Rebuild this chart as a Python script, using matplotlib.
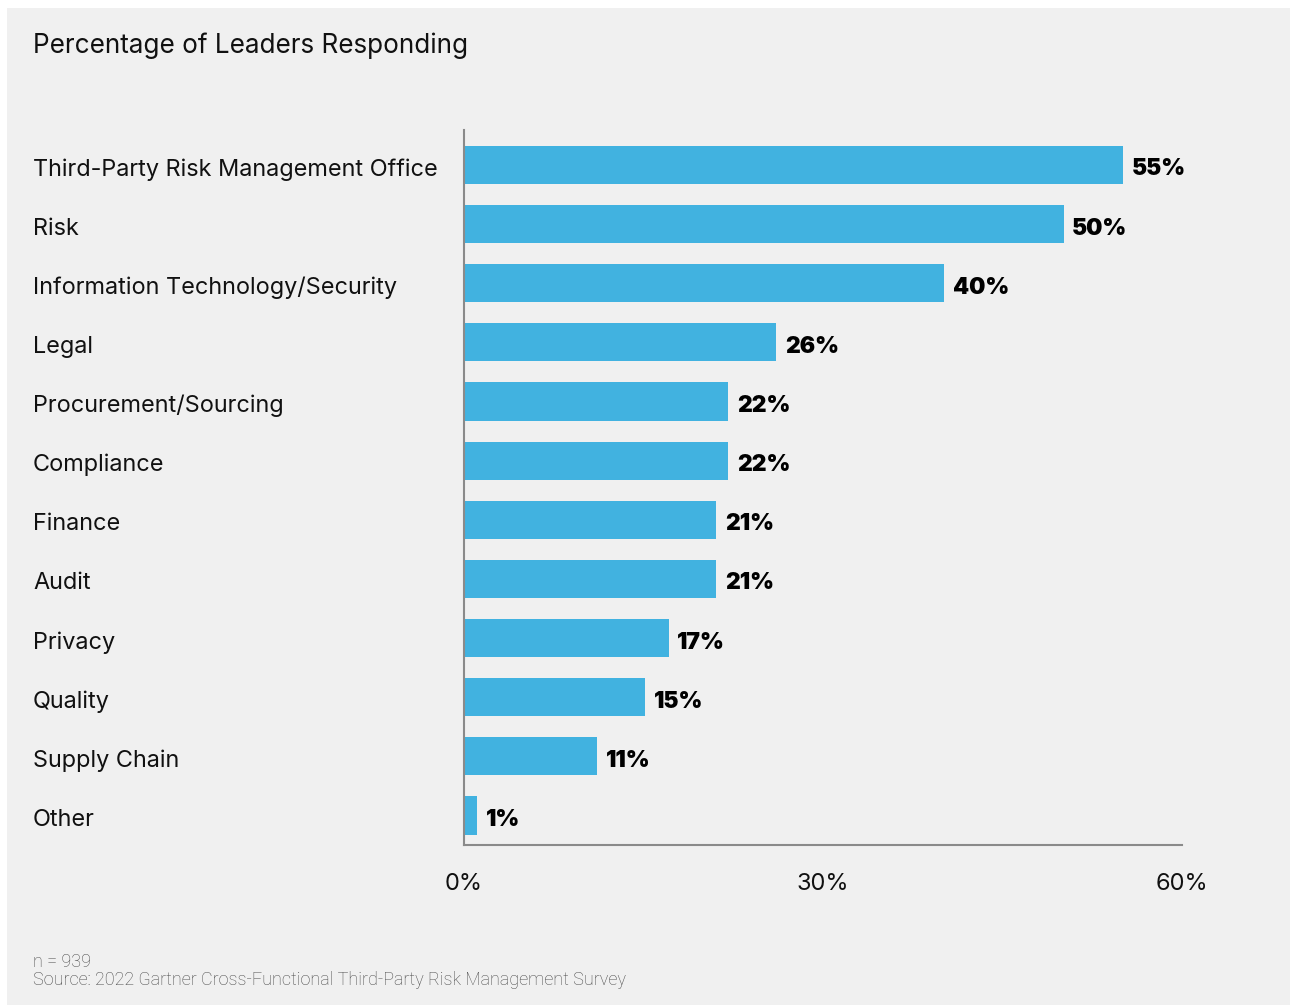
import matplotlib
matplotlib.use("Agg")
import matplotlib.pyplot as plt
from matplotlib.patches import Rectangle

categories = [
    "Third-Party Risk Management Office",
    "Risk",
    "Information Technology/Security",
    "Legal",
    "Procurement/Sourcing",
    "Compliance",
    "Finance",
    "Audit",
    "Privacy",
    "Quality",
    "Supply Chain",
    "Other",
]
values = [55, 50, 40, 26, 22, 22, 21, 21, 17, 15, 11, 1]
x_ticks = [0, 30, 60]
x_tick_labels = ["0%", "30%", "60%"]

title = "Percentage of Leaders Responding"
footnote_n = "n = 939"
footnote_src = "Source: 2022 Gartner Cross-Functional Third-Party Risk Management Survey"

W, H = 1291, 1006
fig = plt.figure(figsize=(W / 100, H / 100), dpi=100)
fig.patch.set_facecolor("white")

# light grey card behind everything
card = Rectangle((7 / W, 1 - 1005 / H), (1290 - 7) / W, (1005 - 8) / H,
                 transform=fig.transFigure, facecolor="#f0f0f0",
                 edgecolor="none", zorder=-10)
fig.patches.append(card)

ax = fig.add_axes([464 / W, 1 - 845 / H, (1182 - 464) / W, (845 - 130) / H])
ax.set_zorder(5)
ax.set_facecolor("none")

bar_color = "#41b2e0"
ypos = list(range(len(categories)))
ax.barh(ypos, values, height=0.645, color=bar_color, left=0.1, zorder=2)

ax.set_xlim(0, 60)
ax.set_ylim(11.5, -0.59)

for y, v in zip(ypos, values):
    ax.annotate(f"{v}%", xy=(v, y), xytext=(10, -2), textcoords="offset pixels",
                va="center_baseline", ha="left", fontsize=16.5,
                fontweight="black", family=["Inter", "DejaVu Sans"], color="black",
                annotation_clip=False)

ax.set_yticks(ypos)
ax.set_yticklabels([])
for y, c in zip(ypos, categories):
    ax.annotate(c, xy=(0, y), xycoords=("figure pixels", "data"),
                xytext=(33, -2), textcoords="offset pixels",
                va="center_baseline", ha="left", fontsize=16.9,
                family=["Inter", "DejaVu Sans"],
                color="#111111", annotation_clip=False)

ax.set_xticks(x_ticks)
ax.set_xticklabels(x_tick_labels, fontsize=17, family=["Inter", "DejaVu Sans"],
                   color="#111111")
ax.tick_params(axis="x", length=0, pad=20)
ax.tick_params(axis="y", length=0)

for s in ["top", "right"]:
    ax.spines[s].set_visible(False)
for s in ["left", "bottom"]:
    ax.spines[s].set_color("#8a8a8a")
    ax.spines[s].set_linewidth(1.5)

fig.text(33 / W, 1 - 46 / H, title, fontsize=18.8, family=["Inter", "DejaVu Sans"],
         color="#111111", va="center", ha="left")
fig.text(33 / W, 1 - 962 / H, footnote_n, fontsize=13, family=["Roboto", "DejaVu Sans"],
         fontweight="light", color="#4a4a4a", va="center", ha="left")
fig.text(33 / W, 1 - 980 / H, footnote_src, fontsize=13, family=["Roboto", "DejaVu Sans"],
         fontweight="light", color="#4a4a4a", va="center", ha="left")

fig.savefig("out.png", dpi=100)
